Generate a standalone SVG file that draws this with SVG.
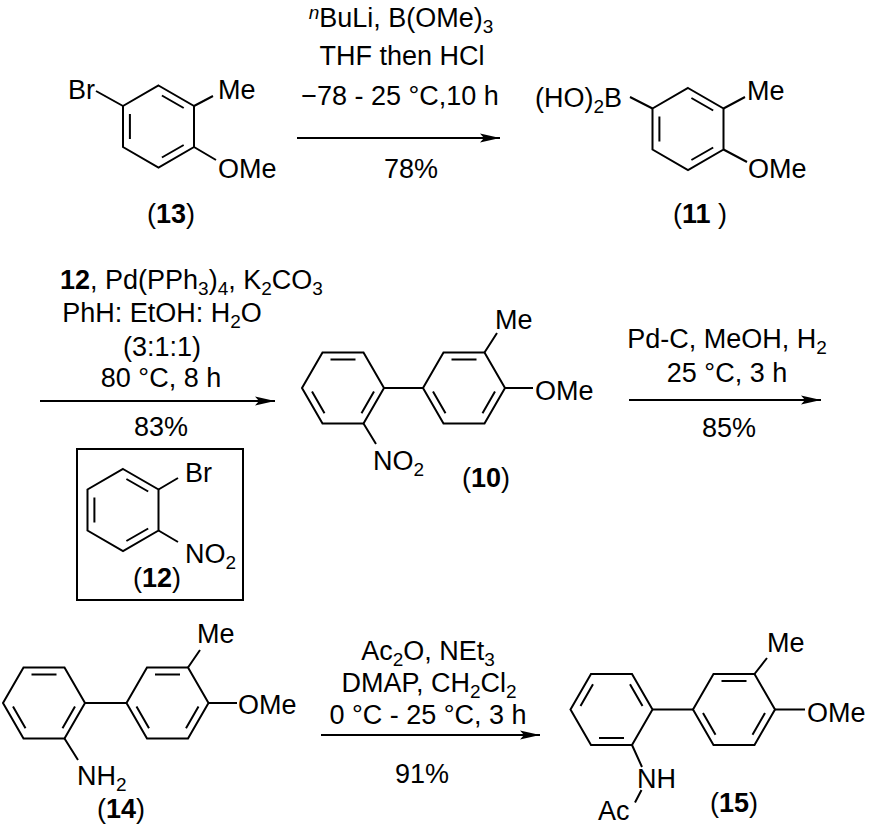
<svg xmlns="http://www.w3.org/2000/svg" width="870" height="832" viewBox="0 0 870 832">
<style>
.t{font-family:"Liberation Sans",Arial,Helvetica,sans-serif;font-size:27px;fill:#000}
.m{text-anchor:middle}
.s{font-size:19px}
.b{font-weight:bold}
.bd{stroke:#000;stroke-width:2;fill:none}
</style>
<defs>
<g id="hexF" fill="none" stroke="#000" stroke-width="2">
<polygon points="-41,0 -20.5,-35.5 20.5,-35.5 41,0 20.5,35.5 -20.5,35.5"/>
<path d="M-12.5,-28.6H12.5M-31,3.4L-18.5,25.2M31,3.4L18.5,25.2"/>
</g>
<g id="hexP" fill="none" stroke="#000" stroke-width="2">
<polygon points="0,-41 35.5,-20.5 35.5,20.5 0,41 -35.5,20.5 -35.5,-20.5"/>
<path d="M-28.6,-12.5V12.5M3.4,-31L25.2,-18.5M25.2,18.5L3.4,31"/>
</g>
<marker id="ah" markerUnits="userSpaceOnUse" markerWidth="22" markerHeight="12" refX="20" refY="5" orient="auto" viewBox="0 0 22 10">
<path d="M0,0.6L20,5L0,9.4L4,5Z" fill="#000"/>
</marker>
</defs>
<rect width="870" height="832" fill="#fff"/>

<g id="c13">
<use href="#hexP" transform="translate(158.5,126.5)"/>
<path class="bd" d="M123,106L96,91M194,106L213,96M194,147L216,160"/>
<text class="t" x="68" y="99">Br</text>
<text class="t" x="218" y="99">Me</text>
<text class="t" x="218" y="178">OMe</text>
<text class="t m" x="171" y="223">(<tspan class="b">13</tspan>)</text>
</g>

<g id="c11">
<use href="#hexP" transform="translate(688,129)"/>
<path class="bd" d="M652.5,108.5L630,97M723.5,108.5L745,97M723.5,149.5L747,162"/>
<text class="t" x="535" y="107">(HO)<tspan class="s" dy="6">2</tspan><tspan dy="-6">B</tspan></text>
<text class="t" x="747" y="100">Me</text>
<text class="t" x="748" y="178">OMe</text>
<text class="t" x="673" y="223">(<tspan class="b">11</tspan> )</text>
</g>

<g id="c12">
<rect class="bd" x="77" y="449" width="166" height="151"/>
<use href="#hexP" transform="translate(123,510)"/>
<path class="bd" d="M158.5,489.5L178,478M158.5,530.5L178,542"/>
<text class="t" x="185" y="482">Br</text>
<text class="t" x="185" y="563">NO<tspan class="s" dy="6">2</tspan></text>
<text class="t m" x="157" y="587">(<tspan class="b">12</tspan>)</text>
</g>

<g id="c10">
<use href="#hexF" transform="translate(343,388)"/>
<use href="#hexF" transform="translate(464,388)"/>
<path class="bd" d="M384,388H423M484.5,352.5L497,333M505,388H533M363.5,423.5L376,444"/>
<text class="t" x="495" y="329">Me</text>
<text class="t" x="535" y="400">OMe</text>
<text class="t" x="373" y="470">NO<tspan class="s" dy="6">2</tspan></text>
<text class="t" x="462" y="487">(<tspan class="b">10</tspan>)</text>
</g>

<g id="c14">
<use href="#hexF" transform="translate(44,703)"/>
<use href="#hexF" transform="translate(167.5,703)"/>
<path class="bd" d="M85,703H126.5M188,667.5L200,650M208.5,703H237M64.5,738.5L78,760"/>
<text class="t" x="197" y="643">Me</text>
<text class="t" x="238" y="714">OMe</text>
<text class="t" x="77" y="785">NH<tspan class="s" dy="6">2</tspan></text>
<text class="t" x="97" y="818">(<tspan class="b">14</tspan>)</text>
</g>

<g id="c15">
<use href="#hexF" transform="translate(611.5,709.5) scale(1,-1)"/>
<use href="#hexF" transform="translate(734,709.5)"/>
<path class="bd" d="M652.5,709.5H693M754.5,674L767,658M775,709.5H805M632,745L642,767M641.5,790L635,802.5"/>
<text class="t" x="767" y="652">Me</text>
<text class="t" x="807" y="722">OMe</text>
<text class="t" x="637" y="788">NH</text>
<text class="t" x="598" y="820">Ac</text>
<text class="t" x="710" y="812">(<tspan class="b">15</tspan>)</text>
</g>

<g id="connectors">
<line class="bd" x1="297" y1="138" x2="500" y2="138" marker-end="url(#ah)"/>
<line class="bd" x1="40" y1="401" x2="275" y2="401" marker-end="url(#ah)"/>
<line class="bd" x1="629" y1="400" x2="821" y2="400" marker-end="url(#ah)"/>
<line class="bd" x1="321" y1="735" x2="540" y2="735" marker-end="url(#ah)"/>
</g>

<g id="conditions">
<text class="t m" x="401" y="27"><tspan class="s" font-style="italic" dy="-8">n</tspan><tspan dy="8">BuLi, B(OMe)</tspan><tspan class="s" dy="6">3</tspan></text>
<text class="t m" x="402" y="65">THF then HCl</text>
<text class="t m" x="400" y="105">−78 - 25 °C,10 h</text>
<text class="t m" x="411" y="178">78%</text>

<text class="t" x="60" y="289"><tspan class="b">12</tspan>, Pd(PPh<tspan class="s" dy="6">3</tspan><tspan dy="-6">)</tspan><tspan class="s" dy="6">4</tspan><tspan dy="-6">, K</tspan><tspan class="s" dy="6">2</tspan><tspan dy="-6">CO</tspan><tspan class="s" dy="6">3</tspan></text>
<text class="t m" x="162" y="322">PhH: EtOH: H<tspan class="s" dy="6">2</tspan><tspan dy="-6">O</tspan></text>
<text class="t m" x="162" y="356">(3:1:1)</text>
<text class="t m" x="161" y="387">80 °C, 8 h</text>
<text class="t m" x="161" y="436">83%</text>

<text class="t m" x="727" y="348">Pd-C, MeOH, H<tspan class="s" dy="6">2</tspan></text>
<text class="t m" x="727" y="382">25 °C, 3 h</text>
<text class="t m" x="729" y="437">85%</text>

<text class="t m" x="428" y="660">Ac<tspan class="s" dy="6">2</tspan><tspan dy="-6">O, NEt</tspan><tspan class="s" dy="6">3</tspan></text>
<text class="t m" x="429" y="692">DMAP, CH<tspan class="s" dy="6">2</tspan><tspan dy="-6">Cl</tspan><tspan class="s" dy="6">2</tspan></text>
<text class="t m" x="428" y="724">0 °C - 25 °C, 3 h</text>
<text class="t m" x="422" y="783">91%</text>
</g>
</svg>
